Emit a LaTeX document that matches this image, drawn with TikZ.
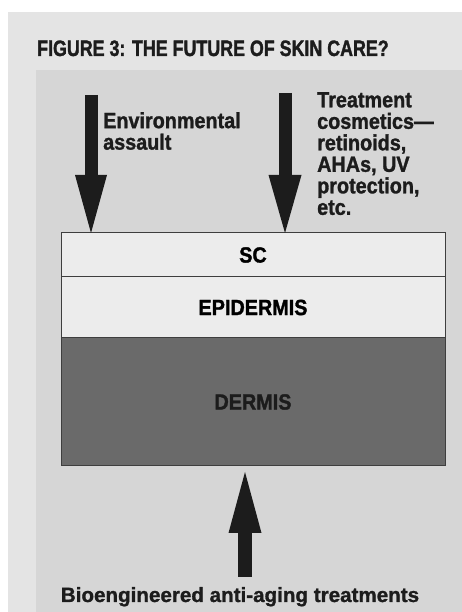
\documentclass[tikz,border=0pt]{standalone}
\usepackage{fontspec}
\setmainfont{Liberation Sans}[FakeBold=1.2]
\newfontfamily\labelfont{Liberation Sans}[FakeStretch=0.9,FakeBold=1.3]
\newfontfamily\titlefont{Liberation Sans}[FakeStretch=0.8,FakeBold=1.4]
\usetikzlibrary{arrows.meta,positioning,calc}
\definecolor{frameGray}{HTML}{E4E4E4}
\definecolor{panelGray}{HTML}{D6D6D6}
\definecolor{layerGray}{HTML}{ECECEC}
\definecolor{dermisGray}{HTML}{6A6A6A}
\definecolor{inkGray}{HTML}{1C1C1C}

\begin{document}
\begin{tikzpicture}[x=1pt,y=1pt,
		layer/.style={draw=inkGray!85, line width=1pt, fill=layerGray, minimum width=384pt, inner sep=0pt, outer sep=0pt, font=\labelfont\bfseries\fontsize{22}{22}\selectfont},
		fatarrow/.style={draw=inkGray, line width=13pt, -{Triangle[length=58pt,width=32pt,line width=0pt]}},
		lbl/.style={anchor=north west, inner sep=0pt, align=left, text=inkGray, font=\labelfont\bfseries\fontsize{22}{21.5}\selectfont}]
		\useasboundingbox (0,0) rectangle (462,612);
		\fill[white] (0,0) rectangle (462,612);
		\fill[frameGray] (8,0) rectangle (462,600);
		\fill[panelGray] (36,0) rectangle (462,542);

		\node[anchor=base west, inner sep=0pt, text=inkGray, font=\titlefont\bfseries\fontsize{22.3}{22.3}\selectfont] (T) at (37,556) {FIGURE 3: THE FUTURE OF SKIN CARE?};

		\node[layer, minimum height=44pt] (SC) at (253,357) {SC};
		\node[layer, minimum height=61pt, below=0pt of SC] (EP) {EPIDERMIS};
		\node[layer, minimum height=128pt, fill=dermisGray, text=inkGray, below=0pt of EP] (DE) {DERMIS};

		\coordinate (A1) at (91,517);
		\coordinate (A2) at (285,519);
		\coordinate (A3) at (245,35);
		\coordinate[below=6pt of DE.south] (gap);

		\draw[fatarrow] (A1) -- (A1 |- SC.north);
		\draw[fatarrow, -{Triangle[length=58pt,width=33pt,line width=0pt]}] (A2) -- (A2 |- SC.north);
		\draw[fatarrow, line width=14pt, -{Triangle[length=61pt,width=33pt,line width=0pt]}] (A3) -- (A3 |- gap);

		\node[lbl] (EA) at (103,500) {Environmental\\assault};
		\node[lbl] (TC) at (317,520) {Treatment\\cosmetics—\\retinoids,\\AHAs, UV\\protection,\\etc.};
		\node[anchor=base, inner sep=0pt, text=inkGray, font=\bfseries\fontsize{20.6}{20.6}\selectfont] (BA) at (240,10) {Bioengineered anti-aging treatments};
	\end{tikzpicture}
\end{document}
